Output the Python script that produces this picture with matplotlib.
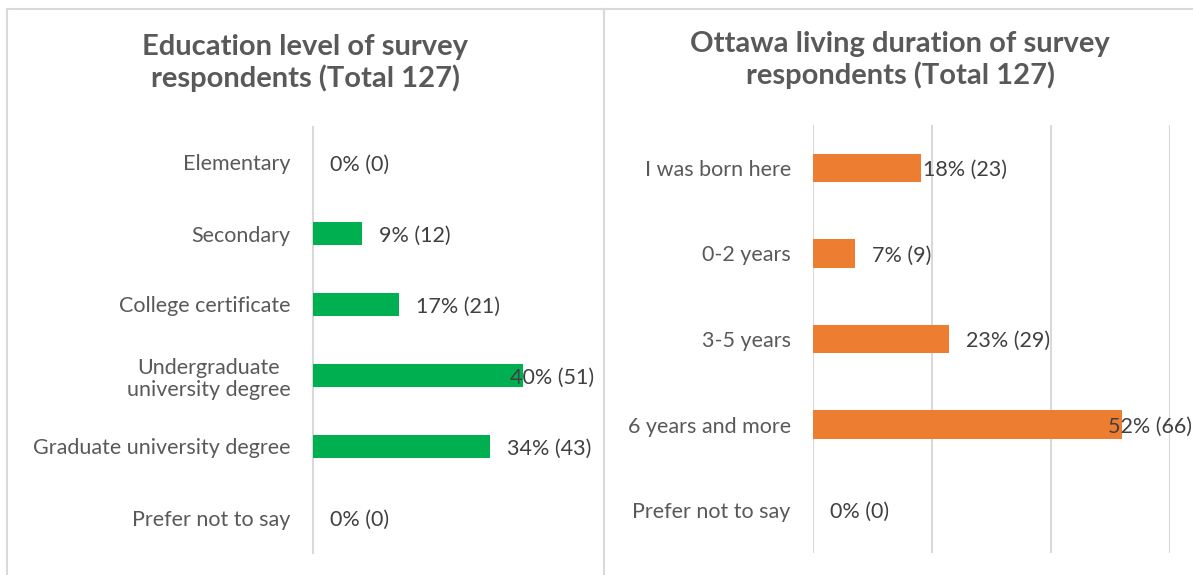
import matplotlib
matplotlib.use("Agg")
import matplotlib.pyplot as plt
from matplotlib.lines import Line2D

TOTAL = 127

edu_labels = ["Elementary", "Secondary", "College certificate",
              "Undergraduate\nuniversity degree", "Graduate university degree",
              "Prefer not to say"]
edu_counts = [0, 12, 21, 51, 43, 0]

ott_labels = ["I was born here", "0-2 years", "3-5 years",
              "6 years and more", "Prefer not to say"]
ott_counts = [23, 9, 29, 66, 0]

edu_title = "Education level of survey\nrespondents (Total 127)"
ott_title = "Ottawa living duration of survey\nrespondents (Total 127)"

GREEN = "#00B050"
ORANGE = "#ED7D31"
TEXT = "#595959"
LABEL = "#404040"
LINE = "#D9D9D9"
FS = 15.5

plt.rcParams["font.family"] = ["Lato", "DejaVu Sans"]

W, H = 1193, 575
fig = plt.figure(figsize=(W / 100, H / 100), dpi=100)


def px(x0, y0, x1, y1):
    # pixel box (top-left origin) -> figure fraction rect
    return [x0 / W, 1 - y1 / H, (x1 - x0) / W, (y1 - y0) / H]


ax1 = fig.add_axes(px(313, 127, 574.5, 553))
ax2 = fig.add_axes(px(813, 125, 1170, 553))


def draw(ax, labels, counts, color, xmax, grid, nudge=None):
    nudge = nudge or {}
    pct = [c / TOTAL * 100 for c in counts]
    y = list(range(len(labels)))
    ax.barh(y, pct, height=1 / 3, color=color, zorder=3)
    ax.set_xlim(0, xmax)
    ax.set_ylim(len(labels) - 0.5, -0.5)
    ax.set_yticks(y)
    ax.set_yticklabels(labels, fontsize=FS, color=TEXT,
                       multialignment="center", linespacing=1.15)
    ax.tick_params(axis="y", length=0, pad=16)
    ax.tick_params(axis="x", length=0, labelbottom=False)
    for s in ax.spines.values():
        s.set_visible(False)
    if grid:
        ax.set_xticks(range(0, xmax + 1, 20))
        ax.grid(axis="x", color=LINE, linewidth=1.5, zorder=0)
    else:
        ax.set_xticks([])
        ax.spines["left"].set_visible(True)
        ax.spines["left"].set_color(LINE)
        ax.spines["left"].set_linewidth(1.5)
    texts = []
    for i, (lab, c, p) in enumerate(zip(labels, counts, pct)):
        t = ax.annotate(f"{round(p)}% ({c})", xy=(p, i),
                        xytext=(17 + nudge.get(lab, 0), -2),
                        textcoords="offset pixels", ha="left", va="center",
                        fontsize=FS, color=LABEL, zorder=4)
        texts.append(t)
    return texts


t1 = draw(ax1, edu_labels, edu_counts, GREEN, 50, grid=False)
t2 = draw(ax2, ott_labels, ott_counts, ORANGE, 60, grid=True,
          nudge={"I was born here": -15})

# keep data labels inside the chart area
fig.canvas.draw()
r = fig.canvas.get_renderer()
for texts, limit in ((t1, 594), (t2, 1192)):
    for t in texts:
        bb = t.get_window_extent(r)
        if bb.x1 > limit:
            dx, dy = t.xyann
            t.xyann = (dx - (bb.x1 - limit), dy)

fig.text(305 / W, 1 - 63 / H, edu_title, ha="center", va="center",
         fontsize=21, fontweight="bold", color=TEXT, linespacing=1.22)
fig.text(900 / W, 1 - 60 / H, ott_title, ha="center", va="center",
         fontsize=21, fontweight="bold", color=TEXT, linespacing=1.22)

# chart-area frame lines
for xs, ys in (([7, W], [9, 9]), ([7, 7], [9, H]), ([604, 604], [9, H])):
    fig.add_artist(Line2D([x / W for x in xs], [1 - y / H for y in ys],
                          color=LINE, linewidth=1.5))

fig.savefig("out.png", dpi=100, facecolor="white")
